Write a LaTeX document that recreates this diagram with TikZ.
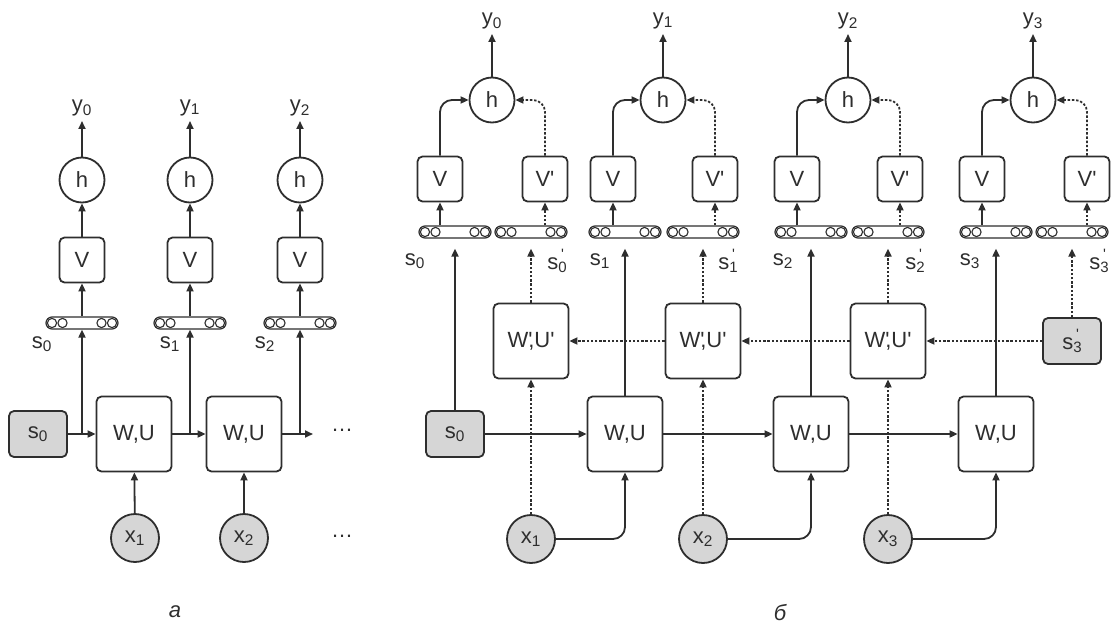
\documentclass[tikz,border=0pt]{standalone}
\usepackage{fontspec}
\setmainfont{Liberation Sans}
\usetikzlibrary{arrows.meta, calc}
\definecolor{ink}{HTML}{2E2E2E}
\definecolor{shade}{HTML}{D6D6D6}
\newcommand{\idx}[2]{#1\textsubscript{#2}}
\newcommand{\idxp}[2]{#1\raisebox{-3pt}{\fontsize{15}{15}\selectfont\shortstack{\textquotesingle\\#2}}}
\newcommand{\pr}{\textquotesingle}

\begin{document}
\begin{tikzpicture}[x=1pt, y=-1pt, >={Triangle[length=8pt, width=7pt]},
    line width=1.8pt, color=ink,
    every node/.style={font=\fontsize{22}{24}\selectfont, inner sep=0pt},
    cell/.style={draw, fill=white, rounded corners=5pt, minimum width=75pt, minimum height=75pt},
    vbox/.style={draw, fill=white, rounded corners=5pt, minimum size=45pt},
    seed/.style={draw, fill=shade, rounded corners=5pt, minimum width=58pt, minimum height=46pt},
    hnode/.style={draw, circle, minimum size=45pt},
    xnode/.style={draw, fill=shade, circle, minimum size=48pt},
    vecnode/.style={draw, line width=1.2pt, fill=white, rounded corners=6pt,
      minimum width=72pt, minimum height=12pt,
      path picture={
        \foreach \d in {6, 16.5} {
          \draw[line width=1.1pt] ($(path picture bounding box.west)+(\d pt,0pt)$) circle[radius=4.6pt];
          \draw[line width=1.1pt] ($(path picture bounding box.east)+(-\d pt,0pt)$) circle[radius=4.6pt];
        }
        \fill ($(path picture bounding box.center)+(-2.5pt,3.2pt)$) circle[radius=1pt]
              ($(path picture bounding box.center)+(2.5pt,3.2pt)$) circle[radius=1pt];
      }},
    back/.style={dash pattern=on 2.4pt off 1.8pt},
    link/.style={->, rounded corners=12pt}]
  \useasboundingbox (0,0) rectangle (1111,624);

  % panel a
  \node[seed] (a-s0) at (38,434) {\idx{s}{0}};
  \node[cell] (a-wu1) at (134,434) {W,U};
  \node[cell] (a-wu2) at (244,434) {W,U};
  \coordinate (a-end) at (313,434);
  \node (a-dots1) at (342,430) {\dots};
  \node[xnode] (a-x1) at (135,538) {\idx{x}{1}};
  \node[xnode] (a-x2) at (244,538) {\idx{x}{2}};
  \node (a-dots2) at (342,536) {\dots};
  \foreach \i/\cx/\lx in {0/82/42, 1/190/170, 2/300/265} {
    \node[vecnode] (a-st\i) at (\cx,323) {};
    \node[vbox] (a-V\i) at (\cx,260) {V};
    \node[hnode] (a-h\i) at (\cx,180) {h};
    \node (a-y\i) at (\cx,108) {\idx{y}{\i}};
    \node (a-ls\i) at (\lx,344) {\idx{s}{\i}};
    \draw[->] (a-st\i) -- (a-V\i);
    \draw[->] (a-V\i) -- (a-h\i);
    \draw[->, shorten >=4pt] (a-h\i) -- (a-y\i);
    \draw[->] (a-st\i |- a-wu1) -- (a-st\i);
  }
  \draw[->] (a-s0) -- (a-wu1);
  \draw[->] (a-wu1) -- (a-wu2);
  \draw[->] (a-wu2) -- (a-end);
  \draw[->] (a-x1) -- (a-wu1);
  \draw[->] (a-x2) -- (a-wu2);
  \node (lab-a) at (175,612) {\itshape а};

  % panel b
  \node[seed] (b-s0) at (455,434) {\idx{s}{0}};
  \foreach \i/\cx in {1/625, 2/811, 3/996}
    \node[cell] (b-wu\i) at (\cx,434) {W,U};
  \foreach \i/\cx in {1/531, 2/703, 3/888} {
    \node[cell] (b-wp\i) at (\cx,341) {W\rlap{\pr},U\pr};
    \node[xnode] (b-x\i) at (\cx,539) {\idx{x}{\i}};
  }
  \node[seed] (b-s3p) at (1072,341) {\idxp{s}{3}};
  \foreach \i/\hx/\vx/\vpx/\sx/\spx/\lx/\lpx in
      {0/492/440/545/455/531/415/557, 1/663/613/715/625/703/600/728,
       2/848/797/900/811/888/783/915, 3/1033/982/1087/996/1072/970/1099} {
    \node (b-y\i) at (\hx,21) {\idx{y}{\i}};
    \node[hnode] (b-h\i) at (\hx,100) {h};
    \node[vbox] (b-V\i) at (\vx,179) {V};
    \node[vbox] (b-Vp\i) at (\vpx,179) {V\pr};
    \node[vecnode] (b-st\i) at (\sx,232) {};
    \node[vecnode] (b-stp\i) at (\spx,232) {};
    \node (b-ls\i) at (\lx,261) {\idx{s}{\i}};
    \node (b-lsp\i) at (\lpx,261) {\idxp{s}{\i}};
    \draw[->, shorten >=4pt] (b-h\i) -- (b-y\i);
    \draw[->] (b-V\i |- b-st\i.north) -- (b-V\i);
    \draw[->, back] (b-Vp\i |- b-stp\i.north) -- (b-Vp\i);
    \draw[link] (b-V\i.north) |- (b-h\i.west);
    \draw[link, back] (b-Vp\i.north) |- (b-h\i.east);
  }
  % state chain
  \draw[->, shorten >=10pt] (b-s0) -- (b-st0);
  \draw[->, shorten >=10pt] (b-wu1) -- (b-st1);
  \draw[->, shorten >=10pt] (b-wu2) -- (b-st2);
  \draw[->, shorten >=10pt] (b-wu3) -- (b-st3);
  \draw[->] (b-s0) -- (b-wu1);
  \draw[->] (b-wu1) -- (b-wu2);
  \draw[->] (b-wu2) -- (b-wu3);
  % backward chain
  \draw[->, back, shorten >=10pt] (b-wp1) -- (b-stp0);
  \draw[->, back, shorten >=10pt] (b-wp2) -- (b-stp1);
  \draw[->, back, shorten >=10pt] (b-wp3) -- (b-stp2);
  \draw[->, back, shorten >=10pt] (b-s3p) -- (b-stp3);
  \draw[->, back] (b-s3p) -- (b-wp3);
  \draw[->, back] (b-wp3) -- (b-wp2);
  \draw[->, back] (b-wp2) -- (b-wp1);
  % inputs
  \foreach \i in {1,2,3} {
    \draw[->, back] (b-x\i) -- (b-wp\i);
    \draw[link] (b-x\i.east) -| (b-wu\i.south);
  }
  \node (lab-b) at (780,613) {\itshape б};
\end{tikzpicture}
\end{document}
